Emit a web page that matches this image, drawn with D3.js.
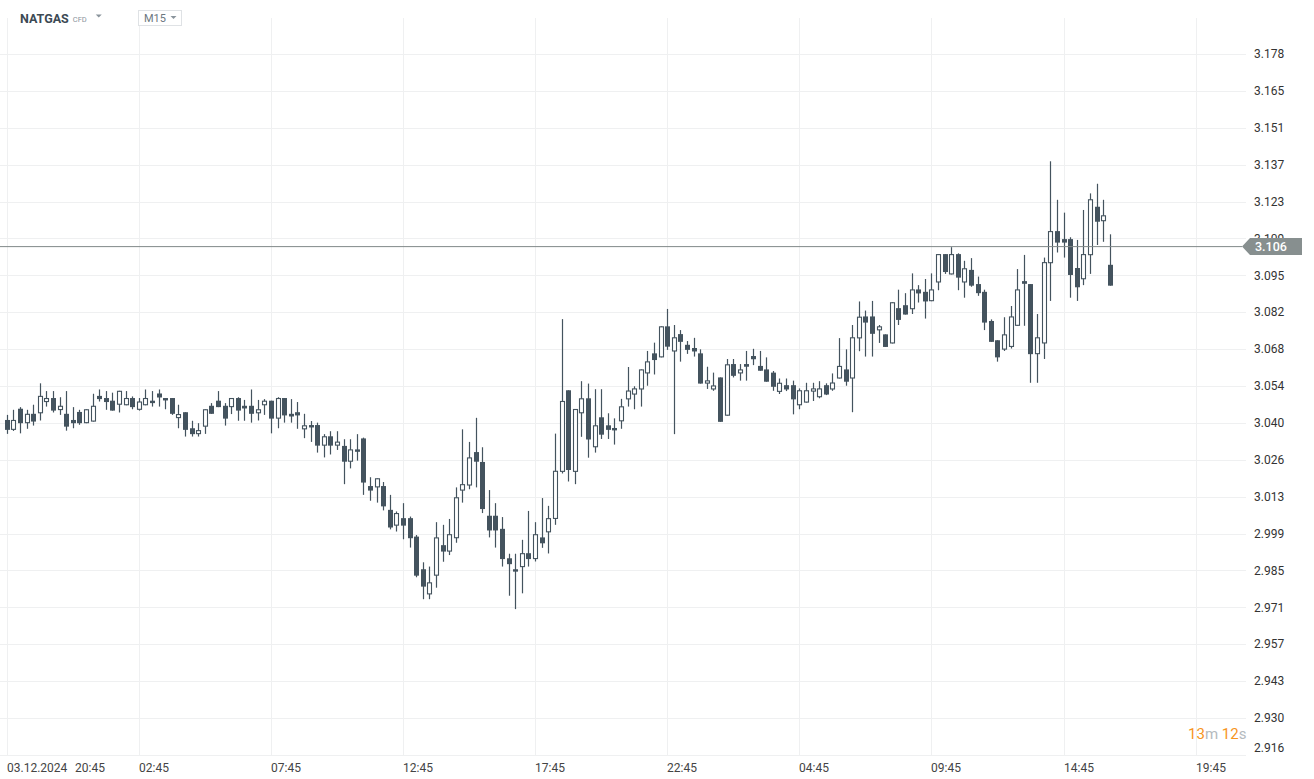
<!DOCTYPE html>
<html><head><meta charset="utf-8">
<script src="https://cdn.jsdelivr.net/npm/d3@7"></script>
<style>html,body{margin:0;padding:0;background:#fff;}svg{display:block;font-family:Roboto,"Noto Sans",sans-serif;}</style>
</head><body>
<svg id="c" width="1314" height="779"></svg>
<script>
// ---- data (M15 bars, NATGAS CFD) ----
const open = [
3.0412,3.0375,3.0454,3.0400,3.0435,3.0437,3.0479,3.0494,3.0449,3.0435,
3.0412,3.0442,3.0400,3.0406,3.0502,3.0494,3.0484,3.0469,3.0467,3.0494,
3.0450,3.0467,3.0484,3.0511,3.0494,3.0494,3.0419,3.0441,3.0381,3.0359,
3.0387,3.0465,3.0484,3.0465,3.0460,3.0494,3.0465,3.0465,3.0437,3.0467,
3.0484,3.0417,3.0494,3.0435,3.0441,3.0377,3.0393,3.0393,3.0316,3.0351,
3.0316,3.0315,3.0256,3.0302,3.0343,3.0165,3.0160,3.0165,3.0076,3.0017,
3.0045,3.0045,2.9976,2.9854,2.9760,2.9830,2.9944,2.9920,2.9970,3.0148,
3.0167,3.0292,3.0255,3.0054,3.0054,3.0005,2.9895,2.9854,2.9862,2.9914,
2.9892,2.9973,2.9992,3.0042,3.0218,3.0523,3.0218,3.0437,3.0493,3.0310,
3.0422,3.0392,3.0382,3.0407,3.0489,3.0507,3.0526,3.0586,3.0661,3.0646,
3.0762,3.0668,3.0733,3.0693,3.0681,3.0661,3.0548,3.0526,3.0571,3.0428,
3.0621,3.0586,3.0621,3.0651,3.0614,3.0601,3.0589,3.0517,3.0542,3.0542,
3.0467,3.0477,3.0518,3.0497,3.0542,3.0526,3.0567,3.0601,3.0567,3.0717,
3.0799,3.0799,3.0747,3.0732,3.0698,3.0830,3.0841,3.0826,3.0900,3.0891,
3.0856,3.0926,3.1032,3.0956,3.1032,3.0926,3.0973,3.0920,3.0891,3.0782,
3.0710,3.0675,3.0685,3.0764,3.0931,3.0920,3.0658,3.0698,3.0998,3.1118,
3.1088,3.1088,3.0980,3.0938,3.1028,3.1209,3.1155,3.0992];
const high = [
3.0431,3.0450,3.0460,3.0450,3.0469,3.0549,3.0520,3.0520,3.0497,3.0520,
3.0460,3.0450,3.0452,3.0510,3.0526,3.0520,3.0514,3.0521,3.0520,3.0500,
3.0494,3.0526,3.0520,3.0526,3.0494,3.0494,3.0469,3.0441,3.0409,3.0400,
3.0452,3.0475,3.0520,3.0475,3.0494,3.0497,3.0487,3.0526,3.0487,3.0490,
3.0484,3.0497,3.0494,3.0490,3.0479,3.0435,3.0408,3.0402,3.0359,3.0370,
3.0370,3.0340,3.0340,3.0359,3.0346,3.0198,3.0194,3.0180,3.0132,3.0070,
3.0101,3.0051,2.9982,2.9880,2.9864,3.0030,3.0020,3.0042,3.0160,3.0377,
3.0330,3.0420,3.0310,3.0150,3.0101,3.0049,2.9912,2.9912,2.9964,3.0072,
3.0030,3.0120,3.0091,3.0361,3.0789,3.0523,3.0453,3.0557,3.0548,3.0527,
3.0527,3.0437,3.0418,3.0491,3.0610,3.0538,3.0601,3.0670,3.0701,3.0762,
3.0827,3.0767,3.0748,3.0707,3.0719,3.0676,3.0611,3.0589,3.0571,3.0640,
3.0640,3.0621,3.0670,3.0678,3.0670,3.0646,3.0595,3.0567,3.0567,3.0559,
3.0530,3.0551,3.0551,3.0557,3.0549,3.0586,3.0718,3.0676,3.0767,3.0855,
3.0821,3.0857,3.0767,3.0732,3.0852,3.0899,3.0886,3.0960,3.0916,3.0939,
3.0960,3.1032,3.1032,3.1058,3.1035,3.1007,3.1017,3.0948,3.0899,3.0788,
3.0710,3.0796,3.0838,3.0976,3.1029,3.0920,3.0808,3.1019,3.1379,3.1235,
3.1187,3.1095,3.1085,3.1197,3.1259,3.1295,3.1235,3.1106];
const low = [
3.0360,3.0371,3.0362,3.0379,3.0391,3.0410,3.0462,3.0440,3.0431,3.0372,
3.0381,3.0394,3.0400,3.0406,3.0481,3.0450,3.0447,3.0440,3.0467,3.0452,
3.0447,3.0467,3.0462,3.0462,3.0452,3.0431,3.0381,3.0350,3.0350,3.0350,
3.0360,3.0435,3.0460,3.0391,3.0434,3.0409,3.0409,3.0402,3.0410,3.0431,
3.0362,3.0381,3.0402,3.0402,3.0379,3.0344,3.0330,3.0290,3.0272,3.0283,
3.0300,3.0172,3.0231,3.0260,3.0132,3.0110,3.0103,3.0074,3.0003,2.9995,
2.9966,2.9935,2.9824,2.9742,2.9742,2.9785,2.9882,2.9907,2.9953,3.0103,
3.0153,3.0160,3.0064,2.9973,2.9935,2.9864,2.9755,2.9705,2.9764,2.9864,
2.9883,2.9934,2.9913,3.0020,3.0212,3.0182,3.0172,3.0349,3.0271,3.0290,
3.0341,3.0341,3.0320,3.0379,3.0462,3.0452,3.0462,3.0540,3.0582,3.0646,
3.0674,3.0359,3.0630,3.0659,3.0649,3.0548,3.0528,3.0521,3.0405,3.0428,
3.0571,3.0559,3.0559,3.0617,3.0596,3.0555,3.0521,3.0509,3.0520,3.0433,
3.0452,3.0477,3.0483,3.0493,3.0505,3.0521,3.0567,3.0540,3.0441,3.0669,
3.0649,3.0649,3.0700,3.0685,3.0698,3.0767,3.0806,3.0808,3.0851,3.0791,
3.0856,3.0897,3.0958,3.0956,3.0897,3.0869,3.0910,3.0876,3.0748,3.0704,
3.0630,3.0670,3.0679,3.0764,3.0764,3.0551,3.0551,3.0640,3.0857,3.1038,
3.1019,3.0869,3.0857,3.0916,3.0958,3.1066,3.1078,3.0914];
const close = [
3.0375,3.0412,3.0400,3.0435,3.0406,3.0502,3.0494,3.0447,3.0465,3.0387,
3.0400,3.0400,3.0452,3.0465,3.0490,3.0479,3.0447,3.0521,3.0494,3.0460,
3.0481,3.0494,3.0475,3.0496,3.0485,3.0435,3.0434,3.0375,3.0359,3.0374,
3.0452,3.0435,3.0460,3.0417,3.0494,3.0447,3.0455,3.0435,3.0452,3.0484,
3.0417,3.0494,3.0429,3.0425,3.0429,3.0392,3.0384,3.0316,3.0351,3.0316,
3.0331,3.0256,3.0302,3.0293,3.0178,3.0148,3.0194,3.0089,3.0010,3.0064,
3.0017,2.9970,2.9830,2.9789,2.9805,2.9973,2.9920,2.9985,3.0123,3.0172,
3.0272,3.0256,3.0079,2.9999,2.9999,2.9892,2.9873,2.9845,2.9914,2.9892,
2.9985,2.9951,3.0045,3.0222,3.0483,3.0225,3.0453,3.0493,3.0339,3.0392,
3.0357,3.0375,3.0373,3.0463,3.0522,3.0530,3.0601,3.0631,3.0636,3.0762,
3.0686,3.0721,3.0704,3.0674,3.0668,3.0548,3.0560,3.0541,3.0405,3.0620,
3.0577,3.0601,3.0611,3.0639,3.0596,3.0555,3.0536,3.0551,3.0526,3.0489,
3.0523,3.0523,3.0530,3.0530,3.0507,3.0552,3.0614,3.0555,3.0721,3.0798,
3.0776,3.0734,3.0762,3.0685,3.0852,3.0786,3.0806,3.0900,3.0885,3.0855,
3.0900,3.1032,3.0965,3.1032,3.0944,3.0979,3.0914,3.0886,3.0776,3.0704,
3.0646,3.0732,3.0799,3.0900,3.0921,3.0658,3.0721,3.1002,3.1118,3.1075,
3.1075,3.0954,3.0908,3.1032,3.1237,3.1153,3.1177,3.0914];

const priceLabels = ["3.178","3.165","3.151","3.137","3.123","3.109","3.095","3.082","3.068","3.054",
                     "3.040","3.026","3.013","2.999","2.985","2.971","2.957","2.943","2.930","2.916"];
const timeLabels = ["20:45","02:45","07:45","12:45","17:45","22:45","04:45","09:45","14:45","19:45"];
const dateLabel = "03.12.2024";
const barsPerTick = 20;
const lastPrice = 3.106;
const symbol = "NATGAS", symbolType = "CFD", timeframe = "M15";
const countdown = [["13","n"],["m","u"],[" 12","n"],["s","u"]];

// ---- scales ----
const yTop = 3.178, yBot = 2.916;
const y = d3.scaleLinear().domain([yBot, yTop]).range([754.9, 54]);
const x = d3.scaleLinear().domain([0, 180]).range([6.7, 1195.6]);
const gridRight = 1246;

const svg = d3.select("#c");
svg.append("rect").attr("width",1314).attr("height",779).attr("fill","#fff");

const grid = svg.append("g");
const step = (yTop - yBot) / (priceLabels.length - 1);
const tickVals = priceLabels.map((l,k) => yTop - k*step);
grid.selectAll("line.h").data(tickVals).join("line")
  .attr("x1",0).attr("x2",gridRight)
  .attr("y1",d=>Math.round(y(d))+0.5).attr("y2",d=>Math.round(y(d))+0.5)
  .attr("stroke","#eff0f1").attr("stroke-width",1);
const vIdx = timeLabels.map((t,k)=>k*barsPerTick);
grid.selectAll("line.v").data(vIdx).join("line")
  .attr("x1",d=>Math.round(x(d))+0.5).attr("x2",d=>Math.round(x(d))+0.5)
  .attr("y1",18).attr("y2",Math.round(y(yBot))+0.5)
  .attr("stroke","#eff0f1").attr("stroke-width",1);

// price axis labels (the 3.109 label sits under the last-price tag, as in the original)
svg.append("g").selectAll("text").data(tickVals).join("text")
  .attr("x",1254).attr("y",(d,k)=>Math.min(y(d), 748))
  .attr("dy","0.35em")
  .attr("font-size",12).attr("fill","#333")
  .text((d,k)=>priceLabels[k]);

// time axis labels
const tl = svg.append("g").attr("font-size",12).attr("fill","#444");
tl.selectAll("text").data(timeLabels).join("text")
  .attr("x",(d,k)=> k===0 ? 75 : Math.round(x(vIdx[k])))
  .attr("y",772).text(d=>d);
tl.append("text").attr("x",Math.round(x(0))).attr("y",772).text(dateLabel);

// candles
const col = "#44535e";
const data = open.map((o,i)=>({i, o, h:high[i], l:low[i], c:close[i]}));
const cg = svg.append("g");
const cand = cg.selectAll("g").data(data).join("g");
cand.append("line")
  .attr("x1",d=>Math.round(x(d.i))+0.5).attr("x2",d=>Math.round(x(d.i))+0.5)
  .attr("y1",d=>y(d.h)).attr("y2",d=>y(d.l))
  .attr("stroke",col).attr("stroke-width",1.2);
cand.append("rect")
  .attr("x",d=> d.c>=d.o ? Math.round(x(d.i))-1.5 : Math.round(x(d.i))-2)
  .attr("width",d=> d.c>=d.o ? 4 : 5)
  .attr("y",d=>y(Math.max(d.o,d.c)) + (d.c>=d.o?0.5:0))
  .attr("height",d=>Math.max(1, Math.abs(y(d.o)-y(d.c)) - (d.c>=d.o?1:0)))
  .attr("fill",d=> d.c>=d.o ? "#fff" : col)
  .attr("stroke",d=> d.c>=d.o ? col : "none")
  .attr("stroke-width",1.1);

// last price line + tag
const yp = y(lastPrice);
svg.append("line").attr("x1",0).attr("x2",1242).attr("y1",yp).attr("y2",yp)
  .attr("stroke","#808888").attr("stroke-width",1);
svg.append("path")
  .attr("d",`M1242,${yp} L1250,${yp-8.5} L1302,${yp-8.5} L1302,${yp+8.5} L1250,${yp+8.5} Z`)
  .attr("fill","#878f8f");
svg.append("text").attr("x",1255).attr("y",yp).attr("dy","0.36em")
  .attr("font-size",12.5).attr("font-weight",500).attr("fill","#fff").text(lastPrice.toFixed(3));

// countdown
const cd = svg.append("text").attr("x",1188).attr("y",739).attr("font-size",15);
countdown.forEach(([t,k])=>cd.append("tspan").attr("fill", k==="n" ? "#f7941d" : "#b4babe").text(t));

// header
const hd = svg.append("g");
const sym = hd.append("text").attr("x",20).attr("y",23).attr("font-size",12.5).attr("font-weight",700)
  .attr("fill","#3c4a54").text(symbol);
const symEnd = 20 + sym.node().getComputedTextLength();
const st = hd.append("text").attr("x",symEnd+4).attr("y",22).attr("font-size",7.5).attr("fill","#8a949c").text(symbolType);
const triX = Math.max(95, symEnd + 4 + st.node().getComputedTextLength() + 9);
hd.append("path").attr("d",`M${triX},14.5 L${triX+6},14.5 L${triX+3},17.5 Z`).attr("fill","#8a949c");
hd.append("rect").attr("x",138.5).attr("y",10.5).attr("width",43).attr("height",15)
  .attr("fill","#fff").attr("stroke","#dfe2e5");
hd.append("text").attr("x",144).attr("y",22).attr("font-size",11).attr("fill","#6b7780").text(timeframe);
hd.append("path").attr("d","M170.5,16 L176.5,16 L173.5,19 Z").attr("fill","#8a949c");
</script>
</body></html>
